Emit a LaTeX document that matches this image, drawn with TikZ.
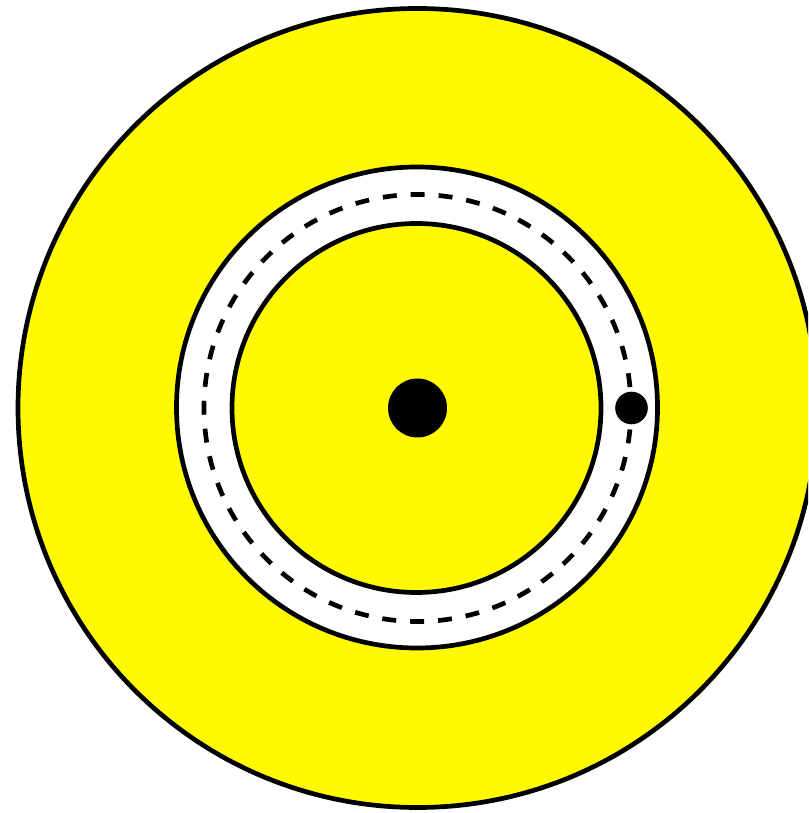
\documentclass[tikz,border=0pt]{standalone}
\definecolor{discyellow}{RGB}{255,250,0}
\tikzset{
  ringline/.style={draw=black, line width=4.7pt},
  trackdash/.style={draw=black, line width=4.7pt, dash pattern=on 13.97pt off 13.97pt, dash phase=7pt},
}
\begin{document}
\begin{tikzpicture}[x=1pt,y=1pt]
\useasboundingbox (0,0) rectangle (808,813);
\begin{scope}
\clip (0,0) rectangle (808,813);
% outer disc
\fill[white] (0,0) rectangle (808,813);
\path[ringline, fill=discyellow] (417.5,405) circle (399.5);
\end{scope}
% white ring
\path[ringline, fill=white] (417,405.5) circle (240.5);
% dashed track
\path[trackdash] (417.5,405) circle (213.5);
% inner disc
\path[ringline, fill=discyellow] (416.5,405) circle (184.5);
% centre dot
\fill[black] (417.5,405) circle (29.5);
% small dot on track
\fill[black] (631.5,405) circle (16.3);
\end{tikzpicture}
\end{document}
